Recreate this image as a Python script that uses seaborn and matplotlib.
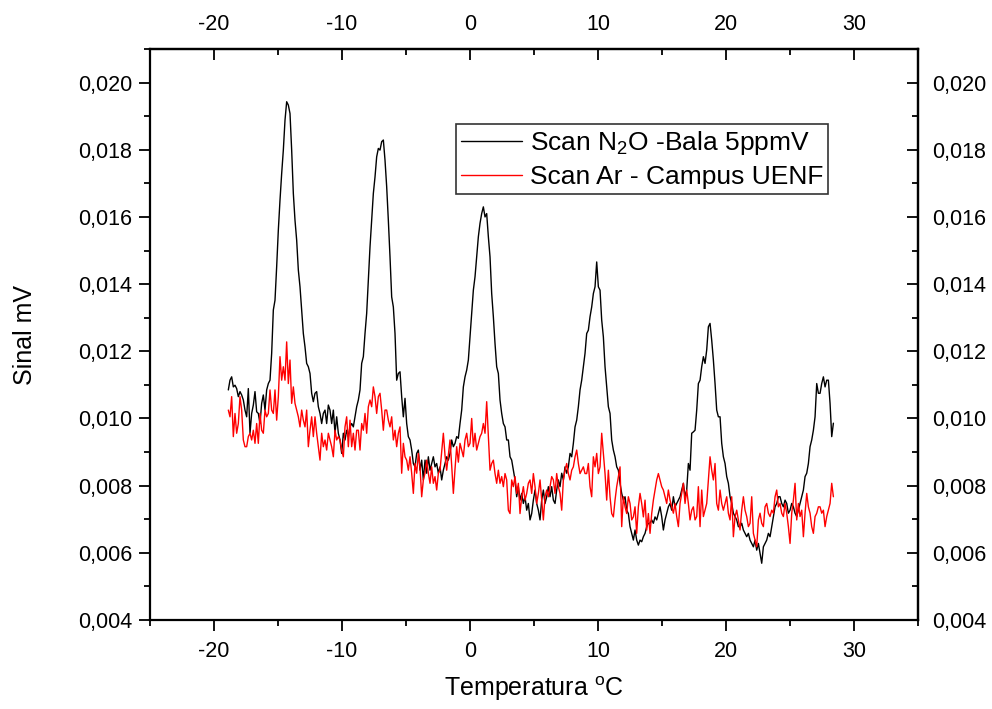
import numpy as np
import pandas as pd
import matplotlib
matplotlib.use("Agg")
import matplotlib.pyplot as plt
import seaborn as sns
from matplotlib.ticker import MultipleLocator, FuncFormatter

# ---------------- data (signal in units of 1e-3 mV) ----------------
temp_start = -18.88
temp_end = 28.39

sinal_n2o = [
    10.85, 11.14, 11.24, 10.94, 10.99, 10.89, 10.65, 10.8, 10.7, 10.55,
    10.25, 10.05, 10.89, 9.56, 10.15, 10.4, 10.8, 10.2, 10.15, 9.85,
    10.45, 10.7, 10.25, 10.85, 11.04, 11.14, 11.94, 13.23, 13.52, 14.52,
    15.61, 16.5, 17.29, 17.99, 18.88, 19.43, 19.33, 19.08, 17.99, 16.7,
    15.9, 15.31, 14.42, 13.92, 13.23, 12.53, 12.13, 11.64, 11.54, 11.34,
    10.75, 10.5, 10.75, 10.8, 10.35, 10.15, 9.85, 10.15, 10.25, 9.85,
    10.4, 10.25, 9.85, 10.25, 9.56, 10.05, 9.56, 9.36, 8.96, 9.56,
    9.36, 9.65, 9.46, 9.75, 9.85, 9.75, 10.05, 10.35, 10.55, 10.85,
    11.64, 11.84, 12.53, 13.13, 14.12, 15.11, 15.9, 16.7, 17.19, 17.79,
    18.04, 17.99, 18.24, 18.29, 17.69, 16.9, 15.9, 14.81, 13.62, 13.32,
    12.53, 11.14, 11.34, 11.39, 10.65, 10.05, 10.6, 9.85, 9.46, 9.36,
    9.06, 8.66, 8.56, 8.96, 9.06, 8.46, 8.76, 8.17, 8.76, 8.37,
    8.86, 8.46, 8.66, 8.86, 8.56, 8.66, 8.37, 8.56, 8.17, 8.46,
    8.66, 8.86, 8.76, 8.96, 9.36, 9.16, 9.26, 9.46, 9.41, 9.85,
    10.25, 10.94, 11.24, 11.44, 11.74, 12.43, 13.13, 13.82, 14.22, 14.81,
    15.41, 15.81, 16.1, 16.3, 16.0, 16.1, 15.41, 14.81, 13.72, 13.03,
    12.23, 11.54, 11.34, 10.55, 10.15, 9.85, 9.75, 9.36, 9.36, 8.86,
    8.76, 8.46, 8.17, 7.67, 7.97, 7.57, 7.77, 7.47, 7.67, 7.27,
    7.47, 6.98, 7.17, 7.57, 7.87, 7.47, 7.27, 6.98, 7.57, 7.87,
    7.47, 7.67, 7.97, 7.67, 7.97, 7.57, 7.47, 7.87, 8.17, 7.97,
    8.37, 8.17, 8.56, 8.37, 8.56, 8.96, 8.86, 9.26, 9.75, 9.95,
    10.35, 10.85, 11.14, 11.54, 11.94, 12.53, 12.63, 13.03, 13.32, 13.72,
    13.92, 14.66, 13.92, 13.82, 12.93, 12.43, 11.54, 10.94, 10.35, 10.15,
    9.36, 9.06, 8.86, 8.56, 8.46, 8.07, 7.77, 7.57, 7.67, 7.27,
    7.17, 6.78, 6.58, 6.38, 6.68, 6.38, 6.23, 6.38, 6.33, 6.48,
    6.58, 6.78, 6.88, 6.88, 6.98, 6.88, 7.07, 6.98, 7.17,
    7.37, 7.08, 6.68, 6.98, 7.18, 7.37, 7.47, 7.27, 7.67, 7.37,
    7.47, 7.57, 7.67, 7.87, 8.07, 7.67, 7.87, 8.66, 8.46, 9.56,
    9.6, 9.65, 10.25, 11.04, 11.14, 11.54, 11.84, 11.64, 12.04, 12.73,
    12.83, 12.33, 11.74, 11.04, 10.25, 10.05, 10.05, 9.26, 8.86, 8.66,
    8.27, 8.07, 7.67, 7.47, 7.18, 7.08, 6.98, 6.78, 6.78, 6.88,
    6.68, 6.58, 6.48, 6.58, 6.38, 6.28, 6.18, 6.38, 6.08, 6.28,
    5.98, 5.69, 6.18, 6.28, 6.38, 6.58, 6.48, 6.78, 7.08, 7.37,
    7.47, 7.67, 7.67, 7.47, 7.37, 7.57, 7.47, 7.18, 7.27, 7.47,
    7.37, 7.18, 7.08, 7.27, 7.47, 7.67, 7.87, 8.27, 8.37, 8.66,
    9.16, 9.36, 9.65, 10.05, 11.04, 10.75, 10.75, 11.04, 11.24, 10.94,
    11.14, 11.14, 10.45, 9.46, 9.86,
]

sinal_ar = [
    10.25, 10.05, 10.65, 9.46, 10.15, 9.56, 9.85, 10.65, 10.25, 9.36,
    9.16, 9.16, 9.46, 9.56, 9.36, 9.65, 9.26, 9.85, 9.26, 10.15,
    9.65, 9.56, 10.25, 10.05, 10.15, 10.85, 10.25, 10.15, 10.85, 9.95,
    10.65, 11.84, 11.14, 11.54, 11.14, 12.28, 11.04, 11.74, 10.45, 10.94,
    10.45, 10.25, 10.05, 9.75, 10.25, 9.95, 9.75, 10.25, 9.16, 9.65,
    10.05, 9.46, 10.05, 9.56, 9.16, 8.76, 9.56, 9.16, 9.36, 9.06,
    9.56, 9.36, 9.16, 8.86, 9.65, 9.36, 9.46, 9.36, 9.06, 8.86,
    9.75, 10.05, 9.16, 9.95, 9.16, 9.56, 9.06, 9.65, 9.65, 9.06,
    9.85, 9.65, 10.15, 9.56, 10.35, 10.55, 10.35, 10.94, 10.65, 10.15,
    10.65, 10.75, 10.25, 9.65, 10.25, 10.25, 9.95, 9.75, 10.05, 9.36,
    9.65, 9.16, 9.56, 9.75, 8.37, 9.26, 8.86, 8.76, 8.46, 8.86,
    8.37, 7.77, 8.66, 8.37, 8.96, 8.56, 7.67, 8.17, 8.37, 8.76,
    8.37, 8.07, 8.56, 8.07, 8.27, 7.87, 8.37, 8.46, 9.0, 9.56,
    8.9, 8.46, 8.9, 9.36, 8.6, 7.77, 8.5, 9.16, 8.7, 9.26,
    9.06, 8.86, 9.36, 9.56, 9.16, 9.26, 10.0, 9.16, 9.56, 9.06,
    9.26, 9.46, 9.56, 9.85, 9.56, 10.5, 9.46, 8.46, 8.66, 8.76,
    8.36, 8.07, 8.46, 8.07, 8.27, 7.97, 8.36, 8.17, 7.27, 7.17,
    8.17, 7.97, 8.27, 7.77, 8.07, 7.17, 7.67, 7.97, 7.57, 7.77,
    8.07, 8.17, 7.77, 8.36, 7.97, 7.47, 7.77, 8.17, 7.57, 6.98,
    7.67, 7.87, 7.67, 7.97, 8.27, 8.17, 7.77, 8.36, 7.97, 7.77,
    7.27, 8.17, 8.46, 8.66, 8.36, 8.17, 8.46, 8.56, 8.86, 9.06,
    8.66, 8.36, 8.46, 8.56, 8.36, 8.36, 8.66, 7.97, 7.67, 8.86,
    8.56, 8.96, 8.36, 8.56, 9.56, 8.96, 8.36, 7.57, 8.46, 7.67,
    7.17, 7.07, 7.57, 7.97, 8.27, 8.56, 6.78, 7.67, 7.37, 7.17,
    7.67, 7.47, 6.98, 7.07, 7.37, 6.58, 7.37, 7.77, 7.47, 7.07,
    7.57, 6.68, 7.17, 6.58, 7.17, 7.57, 7.87, 8.17, 8.36,
    8.17, 7.97, 7.87, 7.67, 7.47, 7.87, 7.57, 7.37, 7.18, 7.47,
    7.08, 6.78, 7.47, 7.77, 8.07, 7.47, 7.87, 7.47, 6.98, 7.27,
    7.37, 6.98, 7.08, 7.97, 6.78, 7.87, 7.08, 7.27, 7.47, 8.17,
    8.86, 8.46, 8.17, 8.66, 7.47, 7.27, 7.87, 7.47, 7.27, 7.47,
    7.67, 7.18, 6.98, 7.67, 6.48, 7.08, 7.27, 6.98, 6.68, 7.27,
    7.67, 7.27, 7.08, 6.78, 6.88, 7.67, 6.58, 6.38, 6.18, 6.98,
    7.18, 6.88, 6.78, 7.37, 7.47, 7.18, 7.08, 7.27, 7.18, 7.67,
    7.87, 7.37, 7.47, 7.18, 7.08, 7.47, 7.18, 6.78, 6.28, 7.18,
    7.57, 8.07, 6.98, 7.47, 7.08, 7.27, 6.48, 7.18, 7.77, 7.37,
    7.18, 6.78, 6.58, 7.08, 7.18, 7.37, 7.37, 7.18, 7.27, 6.78,
    7.08, 7.27, 7.47, 8.07, 7.67,
]

series_names = ["Scan N$_\\mathrm{2}$O -Bala 5ppmV", "Scan Ar - Campus UENF"]
series_colors = ["black", "red"]
x_ticks = [-20, -10, 0, 10, 20, 30]
y_ticks = [0.004, 0.006, 0.008, 0.010, 0.012, 0.014, 0.016, 0.018, 0.020]

# ---------------- build table ----------------
frames = []
for name, vals in zip(series_names, [sinal_n2o, sinal_ar]):
    v = np.asarray(vals) * 1e-3
    t = np.linspace(temp_start, temp_end, len(v))
    frames.append(pd.DataFrame({"Temperatura": t, "Sinal": v, "Serie": name}))
df = pd.concat(frames, ignore_index=True)

# ---------------- style ----------------
sns.set_style("ticks")
plt.rcParams["font.family"] = ["Liberation Sans", "DejaVu Sans"]
plt.rcParams["mathtext.fontset"] = "custom"
plt.rcParams["mathtext.rm"] = "Liberation Sans"
plt.rcParams["mathtext.it"] = "Liberation Sans:italic"
plt.rcParams["mathtext.bf"] = "Liberation Sans:bold"
plt.rcParams["axes.unicode_minus"] = False
for key in ["text.color", "axes.labelcolor", "xtick.color", "ytick.color",
            "axes.edgecolor"]:
    plt.rcParams[key] = "black"

fig = plt.figure(figsize=(9.92, 7.09), dpi=100)
ax = fig.add_axes([0.1512, 0.1255, 0.7742, 0.8054])

sns.lineplot(data=df, x="Temperatura", y="Sinal", hue="Serie",
             hue_order=series_names,
             palette=dict(zip(series_names, series_colors)),
             estimator=None, sort=False, linewidth=1.0, ax=ax)

ax.set_xlim(-25, 35)
ax.set_ylim(0.004, 0.021)

fmt = FuncFormatter(lambda v, p: f"{v:.3f}".replace(".", ","))

for s in ax.spines.values():
    s.set_linewidth(1.6)
    s.set_color("black")
    s.set_visible(True)

ax.set_xticks(x_ticks)
ax.set_yticks(y_ticks)
ax.xaxis.set_minor_locator(MultipleLocator(5))
ax.yaxis.set_minor_locator(MultipleLocator(0.001))
ax.yaxis.set_major_formatter(fmt)
ax.tick_params(which="both", direction="out", top=False, right=False,
               width=1.3, colors="black", labelsize=15.5)
ax.tick_params(which="major", length=8)
ax.tick_params(which="minor", length=4)
ax.tick_params(axis="x", which="major", pad=7)
ax.tick_params(axis="y", which="major", pad=5)

# top axis (ticks inward)
secx = ax.secondary_xaxis("top")
secx.set_xticks(x_ticks)
secx.xaxis.set_minor_locator(MultipleLocator(5))
secx.tick_params(which="both", direction="in", width=1.3, labelsize=15.5,
                 colors="black")
secx.tick_params(which="major", length=8, pad=10)
secx.tick_params(which="minor", length=4)
secx.spines["top"].set_linewidth(1.6)

# right axis (ticks inward)
secy = ax.secondary_yaxis("right")
secy.set_yticks(y_ticks)
secy.yaxis.set_minor_locator(MultipleLocator(0.001))
secy.yaxis.set_major_formatter(fmt)
secy.tick_params(which="both", direction="in", width=1.3, labelsize=15.5,
                 colors="black")
secy.tick_params(which="major", length=8, pad=10)
secy.tick_params(which="minor", length=4)
secy.spines["right"].set_linewidth(1.6)

ax.set_xlabel("Temperatura $^{\\mathrm{o}}$C", fontsize=18, color="black")
ax.set_ylabel("Sinal mV", fontsize=18, color="black")
ax.xaxis.set_label_coords(0.50, -0.095)
ax.yaxis.set_label_coords(-0.147, 0.50)

handles, labels = ax.get_legend_handles_labels()
if ax.get_legend() is not None:
    ax.get_legend().remove()
leg = ax.legend(handles, labels, loc="upper left", bbox_to_anchor=(0.398, 0.869),
                borderaxespad=0, fontsize=19, frameon=True, fancybox=False,
                framealpha=1, edgecolor="#333333", handlelength=2.3,
                handletextpad=0.3, borderpad=0.2, labelspacing=0.3)
leg.get_frame().set_linewidth(1.2)
for txt in leg.get_texts():
    txt.set_color("black")
for ln in leg.get_lines():
    ln.set_linewidth(1.0)

fig.savefig("out.png", dpi=100)
